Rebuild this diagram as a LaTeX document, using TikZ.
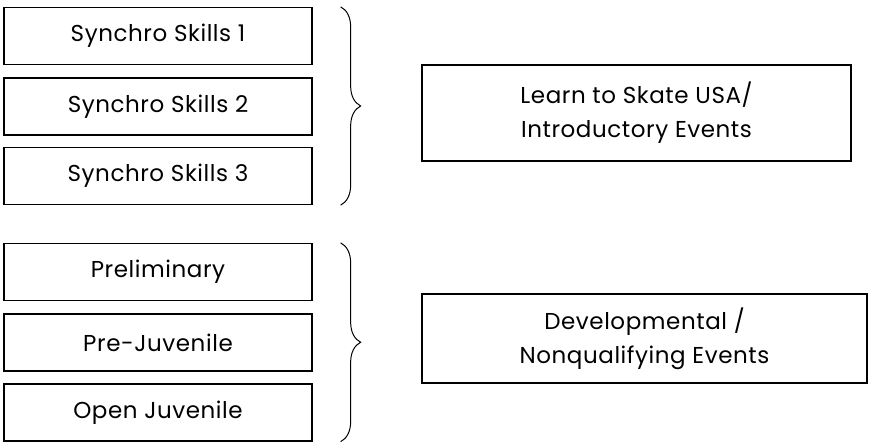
\documentclass[tikz,border=0pt]{standalone}
\usepackage{fontspec}
\setmainfont{Poppins}[LetterSpace=2.5]
\usetikzlibrary{positioning,decorations.pathreplacing}
\begin{document}
\begin{tikzpicture}[x=1pt, y=1pt, level box/.style={draw, line width=1.3pt, minimum width=308pt, minimum height=57pt, inner sep=0pt}, event box/.style={draw, line width=1.8pt, align=center, inner sep=0pt}, group brace/.style={decorate, decoration={brace, amplitude=20pt}, line width=1pt}]%
\useasboundingbox (0,0) rectangle (869,444);
\begin{scope}[every node/.style={font=\fontsize{23}{34}\selectfont}]
\node[level box] (s1) at (158,408) {Synchro Skills 1};
\node[level box] (s2) at (158,337.5) {Synchro Skills 2};
\node[level box] (s3) at (158,268) {Synchro Skills 3};
\node[level box] (p1) at (158,172) {Preliminary};
\node[level box] (p2) at (158,101.5) {Pre-Juvenile};
\node[level box] (p3) at (158,31.5) {Open Juvenile};
\node[event box, minimum width=429pt, minimum height=96pt] (lts) at (636.5,331) {Learn to Skate USA/\\Introductory Events};
\node[event box, minimum width=445pt, minimum height=89pt] (dev) at (644.5,105.5) {Developmental /\\Nonqualifying Events};
\end{scope}
\begin{scope}
\coordinate (b1) at ([xshift=28pt]s1.north east);
\coordinate (b2) at ([xshift=28pt]s3.south east);
\coordinate (b3) at ([xshift=28pt]p1.north east);
\coordinate (b4) at ([xshift=28pt]p3.south east);
\draw[group brace] (b1) -- (b2);
\draw[group brace] (b3) -- (b4);
\end{scope}
\end{tikzpicture}
\end{document}
